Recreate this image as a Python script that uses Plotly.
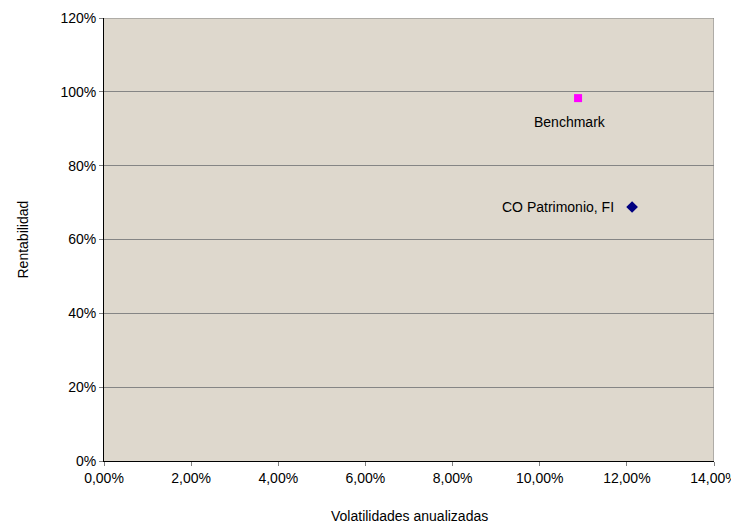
import plotly.graph_objects as go

names = ["Benchmark", "CO Patrimonio, FI"]
volatility = [0.1088, 0.1212]
returns = [0.983, 0.688]
colors = ["#FF00FF", "#000080"]
symbols = ["square", "diamond"]

x_ticks = [0, 0.02, 0.04, 0.06, 0.08, 0.10, 0.12, 0.14]
x_labels = ["0,00%", "2,00%", "4,00%", "6,00%", "8,00%", "10,00%", "12,00%", "14,00%"]
y_ticks = [0, 0.2, 0.4, 0.6, 0.8, 1.0, 1.2]
y_labels = ["0%", "20%", "40%", "60%", "80%", "100%", "120%"]

FONT = "Liberation Sans, Arial"

fig = go.Figure()
for n, xv, yv, c, s in zip(names, volatility, returns, colors, symbols):
    fig.add_trace(go.Scatter(
        x=[xv], y=[yv], mode="markers", name=n,
        marker=dict(symbol=s, size=8 if s == "square" else 9, color=c, line=dict(width=0)),
        showlegend=False, cliponaxis=False,
    ))

# data labels
label_style = [
    dict(xanchor="center", yanchor="middle", xshift=-8, yshift=-24),
    dict(xanchor="right", yanchor="middle", xshift=-16, yshift=0),
]
for n, xv, yv, st in zip(names, volatility, returns, label_style):
    fig.add_annotation(x=xv, y=yv, xref="x", yref="y", text=n, showarrow=False,
                       font=dict(size=14, family=FONT, color="black"), **st)

# page body has an 8px margin, so the figure is sized to fit the 739x523 window
fig.update_layout(
    width=731, height=515,
    margin=dict(l=96, r=25, t=10, b=62),
    paper_bgcolor="white", plot_bgcolor="#DED8CD",
    font=dict(family=FONT, size=14, color="black"),
    xaxis=dict(range=[0, 0.14], tickvals=x_ticks, ticktext=x_labels, showgrid=False,
               showline=True, linecolor="black", linewidth=1, ticks="outside",
               tickcolor="#808080", ticklen=4, zeroline=False, automargin=False,
               tickfont=dict(size=14)),
    yaxis=dict(range=[0, 1.2], tickvals=y_ticks, ticktext=y_labels, showgrid=True,
               gridcolor="#858585", gridwidth=1, showline=True, linecolor="black", linewidth=1,
               ticks="outside", tickcolor="#808080", ticklen=4, zeroline=False, automargin=False,
               tickfont=dict(size=14)),
)
fig.add_annotation(text="Volatilidades anualizadas", xref="paper", yref="paper",
                   x=0.5, y=-55/443, xanchor="center", yanchor="middle", showarrow=False,
                   font=dict(size=14, family=FONT))
fig.add_annotation(text="Rentabilidad", xref="paper", yref="paper",
                   x=-82/610, y=0.5, xanchor="center", yanchor="middle", showarrow=False,
                   textangle=-90, font=dict(size=14, family=FONT))
fig.add_shape(type="line", xref="x", yref="y", x0=0.14, x1=0.14, y0=0, y1=1.2,
              line=dict(color="#808080", width=1))
fig.add_shape(type="line", xref="x", yref="y", x0=0, x1=0.14, y0=1.2, y1=1.2,
              line=dict(color="#808080", width=1))
fig.write_html("out.html")
